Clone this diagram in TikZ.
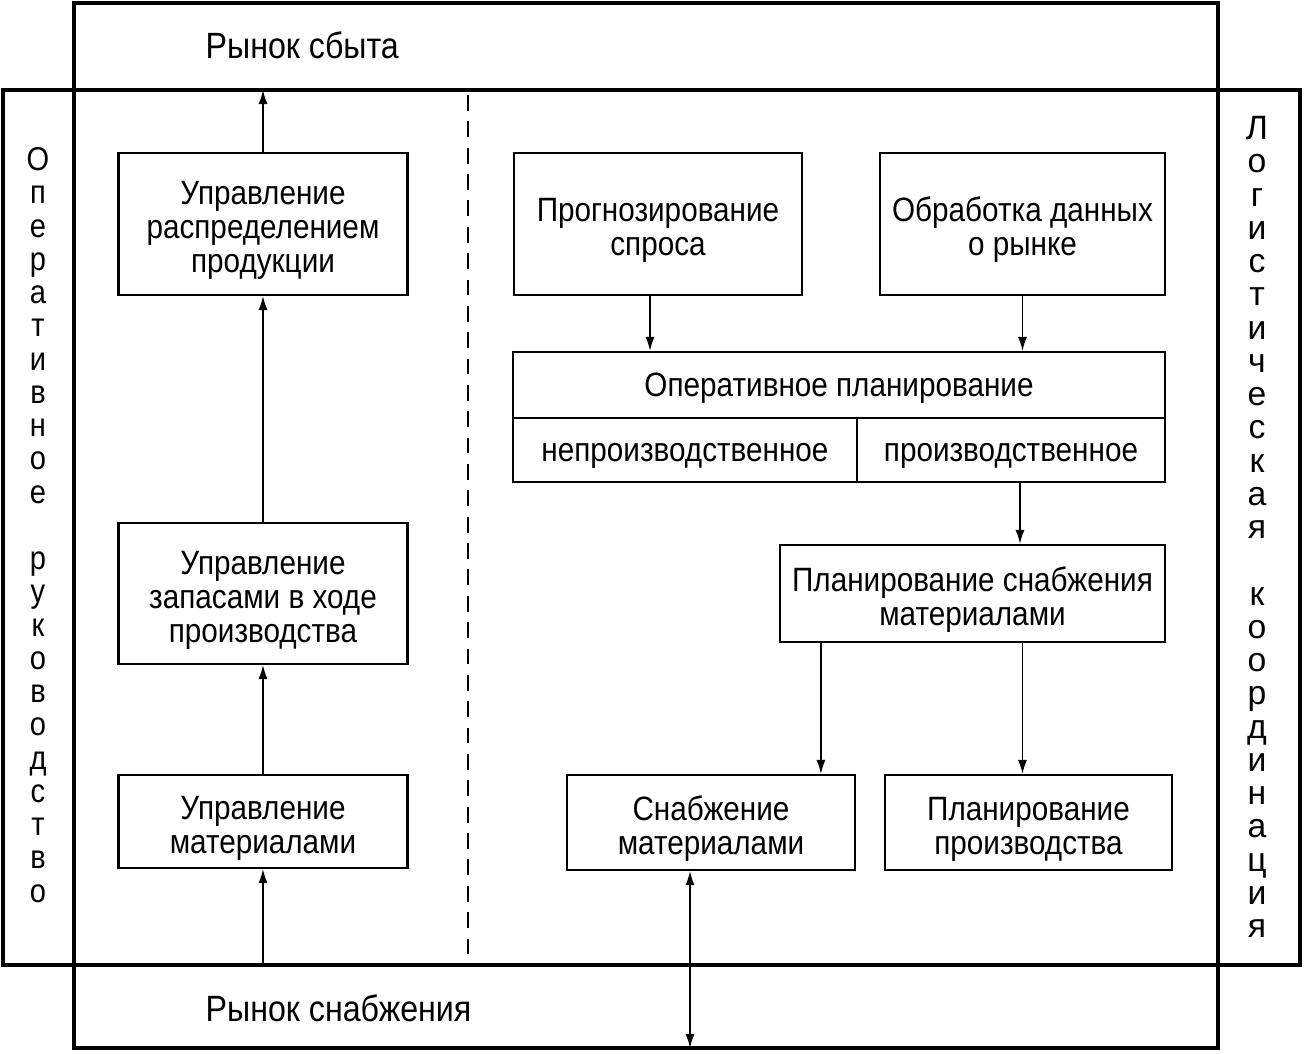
\documentclass[tikz,border=0pt]{standalone}
\usepackage{fontspec}
\setmainfont{Liberation Sans}[FakeStretch=0.88]
\newfontfamily\widefont{Liberation Sans}
\usetikzlibrary{arrows.meta,calc}
\newcommand\topline{\rule{0pt}{10.4pt}}

\begin{document}
\begin{tikzpicture}[x=1cm,y=-1cm,
  box/.style={draw,line width=0.6pt,align=center,inner sep=0pt,font=\fontsize{9.6}{9.7}\selectfont},
  market/.style={anchor=base west,inner sep=0pt,font=\fontsize{10.4}{12}\selectfont},
  side/.style={align=center,inner sep=0pt,font=\fontsize{9.4}{9.46}\selectfont},
  link/.style={line width=0.45pt,-{Latex[length=4pt,width=2.6pt]}}]

\useasboundingbox (0,0) rectangle (13.04,10.54);

% markets and frame
\draw[line width=0.9pt] (0.74,0.03) rectangle (12.18,10.48);
\draw[line width=0.9pt] (0.03,0.90) rectangle (13.00,9.65);
\draw[line width=0.5pt,dash pattern=on 4.5pt off 3pt] (4.68,0.95) -- (4.68,9.55);
\coordinate (topedge) at (0,0.90);
\coordinate (botedge) at (0,9.65);
\coordinate (lowedge) at (0,10.48);

\node[market] (sbyt) at (2.05,0.59) {Рынок сбыта};
\node[market] (snabm) at (2.05,10.21) {Рынок снабжения};

\node[side] (oper) at (0.38,5.25) {О\\п\\е\\р\\а\\т\\и\\в\\н\\о\\е\\\mbox{}\\р\\у\\к\\о\\в\\о\\д\\с\\т\\в\\о};
\node[side,font=\widefont\fontsize{9.6}{9.46}\selectfont] (logk) at (12.57,5.27) {Л\\о\\г\\и\\с\\т\\и\\ч\\е\\с\\к\\а\\я\\\mbox{}\\к\\о\\о\\р\\д\\и\\н\\а\\ц\\и\\я};

% left column
\node[box,minimum width=2.89cm,minimum height=1.42cm] (raspr) at (2.63,2.24) {\topline Управление\\распределением\\продукции};
\node[box,minimum width=2.89cm,minimum height=1.41cm] (zapas) at (2.63,5.935) {\topline Управление\\запасами в ходе\\производства};
\node[box,minimum width=2.89cm,minimum height=0.93cm] (mater) at (2.63,8.215) {\topline Управление\\материалами};

\draw[link] (botedge -| mater.south) -- (mater.south);
\draw[link] (mater.north) -- (zapas.south);
\draw[link] (zapas.north) -- (raspr.south);
\draw[link] (raspr.north) -- (raspr.north |- topedge);

% right column
\node[box,minimum width=2.88cm,minimum height=1.42cm] (prog) at (6.58,2.24) {\topline Прогнозирование\\спроса};
\node[box,minimum width=2.85cm,minimum height=1.42cm] (obr) at (10.225,2.24) {\topline Обработка данных\\о рынке};
\node[box,minimum width=6.52cm,minimum height=0.66cm] (opplan) at (8.39,3.85) {\rule{0pt}{8.8pt}Оперативное планирование};
\node[box,minimum width=3.44cm,minimum height=0.64cm] (neprod) at (6.85,4.50) {\rule{0pt}{8.8pt}непроизводственное};
\node[box,minimum width=3.08cm,minimum height=0.64cm] (prod) at (10.11,4.50) {\rule{0pt}{8.8pt}производственное};
\node[box,minimum width=3.85cm,minimum height=0.97cm] (plsn) at (9.725,5.935) {\topline Планирование снабжения\\материалами};
\node[box,minimum width=2.88cm,minimum height=0.95cm] (snab) at (7.11,8.225) {\topline Снабжение\\материалами};
\node[box,minimum width=2.87cm,minimum height=0.95cm] (plpr) at (10.285,8.225) {\topline Планирование\\производства};

\coordinate (p1) at ($(prog.south)+(-0.08,0)$);
\coordinate (p2) at ($(prod.south)+(0.09,0)$);
\coordinate (p3) at ($(plsn.south west)+(0.42,0)$);
\coordinate (p4) at ($(plsn.south)+(0.50,0)$);
\coordinate (p5) at ($(snab.south)+(-0.21,0)$);

\draw[link] (p1) -- (p1 |- opplan.north);
\draw[link] (obr.south) -- (obr.south |- opplan.north);
\draw[link] (p2) -- (p2 |- plsn.north);
\draw[link] (p3) -- (p3 |- snab.north);
\draw[link] (p4) -- (p4 |- plpr.north);
\draw[link,{Latex[length=4pt,width=2.6pt]}-{Latex[length=4pt,width=2.6pt]}] (p5) -- (p5 |- lowedge);

\end{tikzpicture}
\end{document}
